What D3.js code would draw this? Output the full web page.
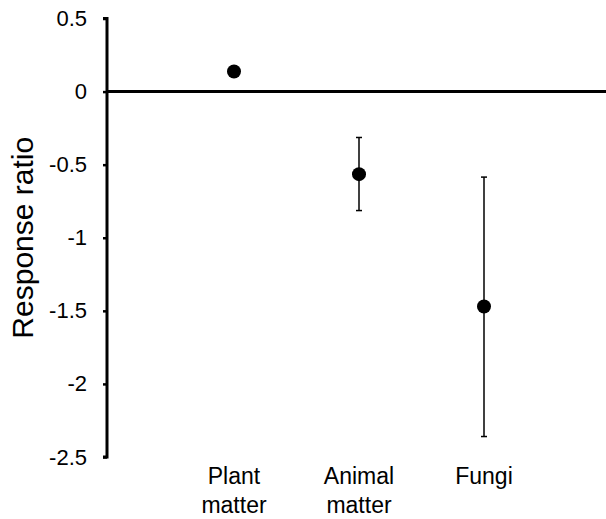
<!DOCTYPE html>
<html>
<head>
<meta charset="utf-8">
<script src="https://cdn.jsdelivr.net/npm/d3@7"></script>
<style>
  html, body { margin: 0; padding: 0; background: #fff; }
  svg { display: block; font-family: "Liberation Sans", Arial, sans-serif; }
  .ytick text { font-size: 22px; fill: #000; }
</style>
</head>
<body>
<svg id="chart" width="606" height="519"></svg>
<script>
// Response ratio per food type, with error-bar bounds
const categories = [["Plant", "matter"], ["Animal", "matter"], ["Fungi"]];
const means = [0.137, -0.565, -1.47];
const lower = [null, -0.814, -2.36];
const upper = [null, -0.314, -0.585];
const yTicks = [0.5, 0, -0.5, -1, -1.5, -2, -2.5];

const svg = d3.select("#chart");
const axisX = 107;

const y = d3.scaleLinear().domain([-2.5, 0.5]).range([457, 18.5]);
const x = d3.scalePoint()
  .domain(categories.map(c => c.join(" ")))
  .range([234, 484]);

// Y axis with left ticks
const yAxis = d3.axisLeft(y)
  .tickValues(yTicks)
  .tickSize(4)
  .tickPadding(16)
  .tickFormat(d => d === 0 ? "0" : String(d));
const gy = svg.append("g").attr("class", "ytick")
  .attr("transform", `translate(${axisX},0)`).call(yAxis);
gy.attr("font-size", null).attr("font-family", null);
gy.select(".domain").attr("stroke", "#000").attr("stroke-width", 3)
  .attr("d", `M-4,${y(0.5)}H0V${y(-2.5)}H-4`);
gy.selectAll(".tick line").attr("stroke", "#000").attr("stroke-width", 2.5);
gy.selectAll(".tick text").attr("fill", "#000").attr("font-size", 22);

// Zero reference line
svg.append("line")
  .attr("x1", axisX).attr("x2", 606)
  .attr("y1", y(0)).attr("y2", y(0))
  .attr("stroke", "#000").attr("stroke-width", 3);

// Error bars
const data = categories.map((c, i) => ({ key: c.join(" "), lines: c, m: means[i], lo: lower[i], hi: upper[i] }));
const eb = svg.append("g").selectAll("g").data(data.filter(d => d.lo !== null)).join("g");
eb.append("line")
  .attr("x1", d => x(d.key)).attr("x2", d => x(d.key))
  .attr("y1", d => y(d.hi)).attr("y2", d => y(d.lo))
  .attr("stroke", "#000").attr("stroke-width", 1.5);
eb.selectAll("line.cap").data(d => [[d.key, d.hi], [d.key, d.lo]]).join("line")
  .attr("class", "cap")
  .attr("x1", d => x(d[0]) - 3).attr("x2", d => x(d[0]) + 3)
  .attr("y1", d => y(d[1])).attr("y2", d => y(d[1]))
  .attr("stroke", "#000").attr("stroke-width", 1.5);

// Mean markers
svg.append("g").selectAll("circle").data(data).join("circle")
  .attr("cx", d => x(d.key)).attr("cy", d => y(d.m))
  .attr("r", 7).attr("fill", "#000");

// Category labels
const lbl = svg.append("g").selectAll("text").data(data).join("text")
  .attr("x", d => x(d.key)).attr("y", 484)
  .attr("text-anchor", "middle")
  .style("font-size", "23px").attr("fill", "#000");
lbl.selectAll("tspan").data(d => d.lines.map(t => ({ t, x: x(d.key) }))).join("tspan")
  .attr("x", d => d.x).attr("dy", (d, i) => i === 0 ? 0 : 29)
  .text(d => d.t);

// Y axis title
svg.append("text")
  .attr("transform", `translate(33,${y(-1)}) rotate(-90)`)
  .attr("text-anchor", "middle")
  .style("font-size", "30px").attr("fill", "#000")
  .text("Response ratio");
</script>
</body>
</html>
